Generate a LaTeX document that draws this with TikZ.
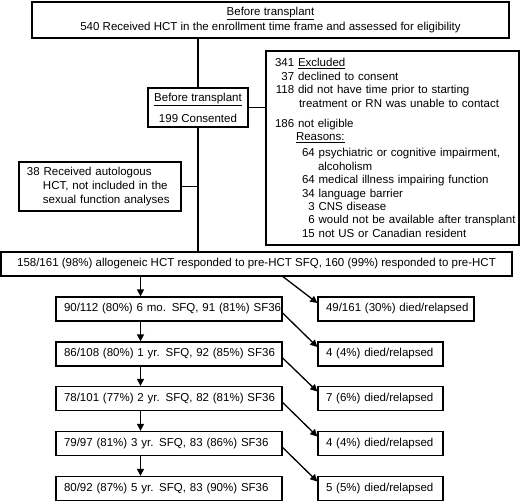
\documentclass[tikz,border=0pt]{standalone}
\usepackage{fontspec}
\setmainfont{Liberation Sans}
\usetikzlibrary{arrows.meta}
\newcommand\numa[1]{\makebox[19.2pt][r]{#1}}
\newcommand\numb[1]{\hspace*{27pt}\makebox[12.8pt][r]{#1}}
\begin{document}
\begin{tikzpicture}[x=1pt,y=-1pt,
  box/.style={draw,line width=1.3pt,inner sep=0pt,font=\fontsize{11.5}{13.4}\selectfont},
  cbox/.style={box,align=center},
  lbox/.style={box,align=left,inner xsep=8pt,text width=#1,minimum height=24pt},
  ln/.style={line width=1.3pt},
  ar/.style={line width=1.3pt,-{Triangle[length=7pt,width=7pt]}}]
\useasboundingbox (0,0) rectangle (520,501);
\coordinate (ax) at (140.5,0);
\coordinate (dx) at (283,0);

\node[cbox,minimum width=477pt,minimum height=36pt] (top) at (270.5,20)
  {\underline{Before transplant}\\[1.6pt]540 Received HCT in the enrollment time frame and assessed for eligibility};
\node[cbox,minimum width=100pt,minimum height=39pt] (cons) at (198,107.5)
  {\underline{Before transplant}\\[7.6pt]199 Consented};
\node[box,align=left,inner xsep=9pt,text width=235pt,minimum height=194pt] (excl) at (392.5,148)
  {\mbox{\numa{341} \underline{Excluded}}\\
   \mbox{\numa{37} declined to consent}\\
   \mbox{\numa{118} did not have time prior to starting}\\
   \mbox{\hspace*{24pt}treatment or RN was unable to contact}\\[7pt]
   \mbox{\numa{186} not eligible}\\
   \mbox{\hspace*{21pt}\underline{Reasons:}}\\[2.5pt]
   \mbox{\numb{64} psychiatric or cognitive impairment,}\\
   \mbox{\hspace*{43pt}alcoholism}\\
   \mbox{\numb{64} medical illness impairing function}\\
   \mbox{\numb{34} language barrier}\\
   \mbox{\numb{3} CNS disease}\\
   \mbox{\numb{6} would not be available after transplant}\\
   \mbox{\numb{15} not US or Canadian resident}};
\node[box,align=left,inner xsep=8pt,text width=146pt,minimum height=49pt,font=\fontsize{11.5}{14}\selectfont] (auto) at (100,186.5)
  {\mbox{38 Received autologous}\\
   \mbox{\hspace*{16pt}HCT, not included in the}\\
   \mbox{\hspace*{16pt}sexual function analyses}};
\node[cbox,minimum width=511pt,minimum height=24pt] (big) at (256.5,264)
  {158/161 (98\%) allogeneic HCT responded to pre-HCT SFQ, 160 (99\%) responded to pre-HCT};

\node[lbox=210pt] (r1) at (169,309)   {\mbox{90/112 (80\%) 6 mo. SFQ, 91 (81\%) SF36}};
\node[lbox=210pt] (r2) at (169,354)   {\mbox{86/108 (80\%) 1 yr. SFQ, 92 (85\%) SF36}};
\node[lbox=210pt] (r3) at (169,398.5) {\mbox{78/101 (77\%) 2 yr. SFQ, 82 (81\%) SF36}};
\node[lbox=210pt] (r4) at (169,443.5) {\mbox{79/97 (81\%) 3 yr. SFQ, 83 (86\%) SF36}};
\node[lbox=210pt] (r5) at (169,488.5) {\mbox{80/92 (87\%) 5 yr. SFQ, 83 (90\%) SF36}};

\node[lbox=140pt] (d1) at (396,309)     {\mbox{49/161 (30\%) died/relapsed}};
\node[lbox=109pt] (d2) at (380.5,354)   {\mbox{4 (4\%) died/relapsed}};
\node[lbox=109pt] (d3) at (380.5,398.5) {\mbox{7 (6\%) died/relapsed}};
\node[lbox=109pt] (d4) at (380.5,443.5) {\mbox{4 (4\%) died/relapsed}};
\node[lbox=109pt] (d5) at (380.5,488.5) {\mbox{5 (5\%) died/relapsed}};

\draw[ln] (cons.north |- top.south) -- (cons.north);
\draw[ln] (cons.east) -- (excl.west |- cons.east);
\draw[ln] (cons.south) -- (cons.south |- big.north);
\draw[ln] (auto.east) -- (auto.east -| cons.south);

\draw[ar] (big.south -| ax) -- (r1.north -| ax);
\draw[ar] (r1.south -| ax) -- (r2.north -| ax);
\draw[ar] (r2.south -| ax) -- (r3.north -| ax);
\draw[ar] (r3.south -| ax) -- (r4.north -| ax);
\draw[ar] (r4.south -| ax) -- (r5.north -| ax);

\draw[ar] (big.south -| dx) -- ([yshift=6pt]d1.west);
\draw[ar] ([yshift=-4pt]r1.east) -- ([yshift=7pt]d2.west);
\draw[ar] ([yshift=-4pt]r2.east) -- ([yshift=7pt]d3.west);
\draw[ar] ([yshift=-4pt]r3.east) -- ([yshift=7pt]d4.west);
\draw[ar] ([yshift=-4pt]r4.east) -- ([yshift=7pt]d5.west);
\end{tikzpicture}
\end{document}
